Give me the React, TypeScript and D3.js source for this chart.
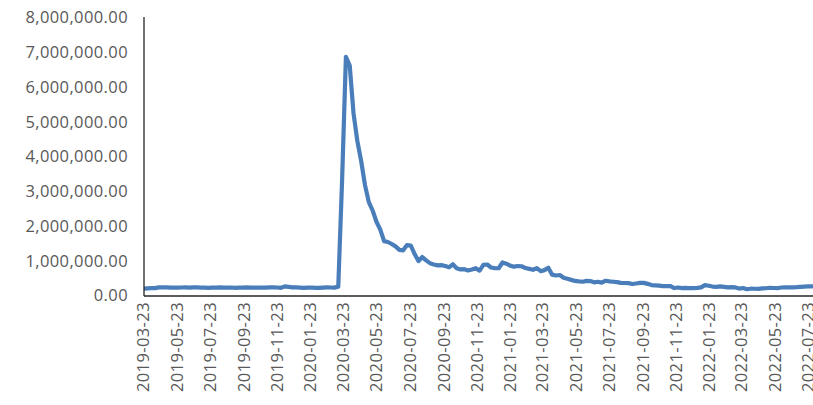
import React from "react";
import * as d3 from "d3";

const startWeek = "2019-03-23";
// weekly initial claims (thousands), one value per week starting 2019-03-23
const claims2019 = [
  200, 205, 210, 212, 232, 234, 232, 226, 225, 228, 230, 232, 228, 236, 232, 224, 228, 222,
  228, 224, 232, 224, 228, 230, 220, 224, 228, 232, 226, 228, 226, 230, 226, 236, 238, 230,
  222, 262, 248, 236, 234,
];
const claims2020 = [
  228, 222, 226, 230, 220, 222, 226, 232, 230, 226, 256, 3307, 6867, 6615, 5237, 4442, 3867,
  3176, 2687, 2446, 2123, 1897, 1566, 1540, 1482, 1413, 1314, 1300, 1450, 1434, 1191, 990,
  1106, 1011, 930, 893, 866, 873, 849, 810, 898, 787, 751, 757, 720, 748, 787, 716, 880, 892,
  806, 790,
];
const claims2021 = [
  784, 950, 914, 860, 830, 848, 841, 790, 765, 740, 790, 700, 730, 800, 600, 575, 590, 510,
  480, 450, 420, 405, 395, 420, 415, 380, 395, 372, 425, 405, 395, 385, 362, 360, 355, 330,
  345, 362, 364, 335, 300, 292, 285, 270, 268, 270, 215, 230, 212, 218, 215, 212,
];
const claims2022 = [
  218, 235, 300, 280, 258, 248, 262, 250, 236, 240, 232, 200, 215, 180, 195, 194, 190, 205,
  208, 222, 215, 210, 230, 232, 235, 236, 240, 248, 255, 260, 265, 268,
];
const claims = [...claims2019, ...claims2020, ...claims2021, ...claims2022];

const yTicks = [0, 1000000, 2000000, 3000000, 4000000, 5000000, 6000000, 7000000, 8000000];
const xTickLabels = [
  "2019-03-23", "2019-05-23", "2019-07-23", "2019-09-23", "2019-11-23", "2020-01-23",
  "2020-03-23", "2020-05-23", "2020-07-23", "2020-09-23", "2020-11-23", "2021-01-23",
  "2021-03-23", "2021-05-23", "2021-07-23", "2021-09-23", "2021-11-23", "2022-01-23",
  "2022-03-23", "2022-05-23", "2022-07-23",
];

const W = 813;
const H = 405;
const left = 144;
const parse = d3.timeParse("%Y-%m-%d");

export default function App() {
  const t0 = parse(startWeek)!;
  const data = claims.map((v, i) => ({ date: d3.timeDay.offset(t0, i * 7), value: v * 1000 }));
  const x = d3
    .scaleTime()
    .domain([parse(xTickLabels[0])!, parse(xTickLabels[xTickLabels.length - 1])!])
    .range([143.5, 808]);
  const y = d3.scaleLinear().domain([0, 8000000]).range([295.5, 17.5]);
  const line = d3
    .line<{ date: Date; value: number }>()
    .x((d) => x(d.date))
    .y((d) => y(d.value));
  const fmt = d3.format(",.2f");
  const font = "'Open Sans', 'Liberation Sans', sans-serif";

  return (
    <svg
      width={W}
      height={H}
      style={{ position: "absolute", left: 0, top: 0, background: "#fff" }}
    >
      <defs>
        <clipPath id="plot">
          <rect x={left} y={0} width={W - left} height={300} />
        </clipPath>
      </defs>
      {yTicks.map((t) => (
        <text
          key={t}
          x={128}
          y={y(t)}
          dy="0.36em"
          textAnchor="end"
          fontFamily={font}
          fontSize={16.5}
          letterSpacing={0.4}
          fill="#595959"
        >
          {fmt(t)}
        </text>
      ))}
      {xTickLabels.map((s) => (
        <text
          key={s}
          transform={`translate(${x(parse(s)!)},302) rotate(-90)`}
          dy="0.36em"
          textAnchor="end"
          fontFamily={font}
          fontSize={16.5}
          letterSpacing={0.4}
          fill="#595959"
        >
          {s}
        </text>
      ))}
      <path
        d={line(data)!}
        fill="none"
        stroke="#4A7EBB"
        strokeWidth={4.2}
        strokeLinejoin="round"
        strokeLinecap="round"
        clipPath="url(#plot)"
      />
      <line x1={left} x2={left} y1={17} y2={296} stroke="#262626" strokeWidth={1.3} />
      <line x1={left} x2={W} y1={296} y2={296} stroke="#262626" strokeWidth={1.3} />
    </svg>
  );
}
